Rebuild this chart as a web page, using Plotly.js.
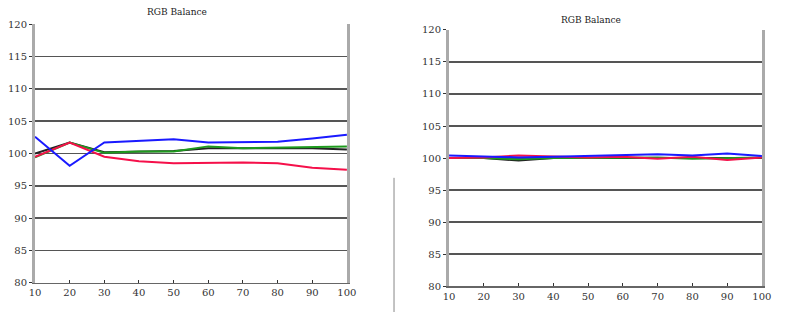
<!DOCTYPE html>
<html><head><meta charset="utf-8">
<script src="https://cdn.plot.ly/plotly-3.0.1.min.js"></script>
<style>html,body{margin:0;padding:0;background:#fff}#c{width:792px;height:312px}</style>
</head><body><div id="c"></div>
<script>
const levels = [10,20,30,40,50,60,70,80,90,100];
const tickLabels = ['10','20','30','40','50','60','70','80','90','100'];
const yTicks = [80,85,90,95,100,105,110,115,120];

// Left chart (before calibration)
const leftRed   = [99.5,101.7,99.5,98.8,98.5,98.6,98.6,98.5,97.8,97.5];
const leftGreen = [99.4,101.7,100.1,100.3,100.3,101.1,100.8,100.9,101.0,101.1];
const leftBlue  = [102.6,98.1,101.7,101.9,102.2,101.7,101.7,101.8,102.3,102.9];
const leftBlack = [100.0,101.7,100.2,100.3,100.4,100.8,100.8,100.9,100.8,100.6];

// Right chart (after calibration)
const rightRed   = [100.0,100.1,100.4,100.2,100.1,100.2,99.9,100.2,99.7,100.1];
const rightGreen = [100.0,100.0,99.8,100.0,100.0,100.0,100.1,99.9,100.0,100.1];
const rightBlue  = [100.4,100.3,100.1,100.2,100.3,100.4,100.6,100.4,100.7,100.3];
const rightBlack = [100.0,100.0,99.6,100.0,100.0,100.0,100.0,100.0,99.9,100.0];

const colors = {red:'#f5104a', green:'#1e9a1e', blue:'#1a1aff', black:'#222222'};

function tr(y, c, xa, ya){
  return {x: levels, y: y, type:'scatter', mode:'lines', line:{color:c, width:2},
          xaxis: xa, yaxis: ya, showlegend:false, hoverinfo:'skip'};
}
const data = [
  tr(leftBlack, colors.black,'x','y'), tr(leftGreen, colors.green,'x','y'),
  tr(leftRed, colors.red,'x','y'), tr(leftBlue, colors.blue,'x','y'),
  tr(rightBlack, colors.black,'x2','y2'), tr(rightGreen, colors.green,'x2','y2'),
  tr(rightRed, colors.red,'x2','y2'), tr(rightBlue, colors.blue,'x2','y2')
];
const tickFont = {family:'DejaVu Serif, Liberation Serif, serif', size:10, color:'#333'};
function xax(dom, anchor){
  return {domain:dom, anchor:anchor, range:[10,100], tickvals:levels, ticktext:tickLabels,
    showgrid:false, zeroline:false, ticks:'inside', ticklen:3, tickcolor:'#333',
    tickfont:tickFont, showline:true, linecolor:'#666', linewidth:1.5, mirror:false};
}
function yax(dom, anchor){
  return {domain:dom, anchor:anchor, range:[80,120], tickvals:yTicks, ticktext:yTicks.map(String),
    showgrid:true, gridcolor:'#555', gridwidth:1.5, zeroline:false, ticks:'outside', ticklen:3,
    tickcolor:'#333', tickfont:tickFont, showline:true, linecolor:'#aaa', linewidth:3, mirror:true};
}
const titleFont = {family:'DejaVu Serif, Liberation Serif, serif', size:9, color:'#222'};
const layout = {
  width:792, height:312, margin:{l:0,r:0,t:0,b:0}, paper_bgcolor:'#fff', plot_bgcolor:'#fff',
  xaxis: xax([0.0442,0.438],'y'),
  yaxis: yax([0.093,0.923],'x'),
  xaxis2: xax([0.567,0.962],'y2'),
  yaxis2: yax([0.083,0.904],'x2'),
  annotations:[
    {text:'RGB Balance', x:0.2235, y:0.962, xref:'paper', yref:'paper', xanchor:'center', yanchor:'middle',
     showarrow:false, font:titleFont},
    {text:'RGB Balance', x:0.746, y:0.937, xref:'paper', yref:'paper', xanchor:'center', yanchor:'middle',
     showarrow:false, font:titleFont}
  ],
  shapes:[
    {type:'line', xref:'paper', yref:'paper', x0:0.4975, x1:0.4975, y0:0, y1:0.43,
     line:{color:'#888', width:1}}
  ]
};
Plotly.newPlot('c', data, layout, {staticPlot:true});
</script></body></html>
